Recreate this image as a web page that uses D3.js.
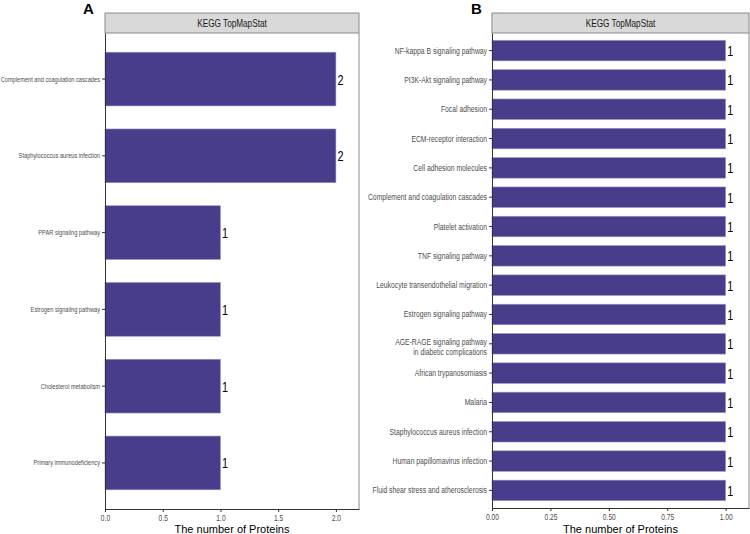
<!DOCTYPE html>
<html>
<head>
<meta charset="utf-8">
<script src="https://cdn.jsdelivr.net/npm/d3@7"></script>
<style>
  body { margin: 0; background: #fff; }
  svg { display: block; }
  text { font-family: "Liberation Sans", Arial, sans-serif; }
</style>
</head>
<body>
<div id="chart"></div>
<script>
// panel A data
const pathwaysA = [
  "Complement and coagulation cascades",
  "Staphylococcus aureus infection",
  "PPAR signaling pathway",
  "Estrogen signaling pathway",
  "Cholesterol metabolism",
  "Primary immunodeficiency"
];
const countsA = [2, 2, 1, 1, 1, 1];
const ticksA = [0, 0.5, 1, 1.5, 2];

// panel B data
const pathwaysB = [
  "NF-kappa B signaling pathway",
  "PI3K-Akt signaling pathway",
  "Focal adhesion",
  "ECM-receptor interaction",
  "Cell adhesion molecules",
  "Complement and coagulation cascades",
  "Platelet activation",
  "TNF signaling pathway",
  "Leukocyte transendothelial migration",
  "Estrogen signaling pathway",
  "AGE-RAGE signaling pathway\nin diabetic complications",
  "African trypanosomiasis",
  "Malaria",
  "Staphylococcus aureus infection",
  "Human papillomavirus infection",
  "Fluid shear stress and atherosclerosis"
];
const countsB = [1, 1, 1, 1, 1, 1, 1, 1, 1, 1, 1, 1, 1, 1, 1, 1];
const ticksB = [0, 0.25, 0.5, 0.75, 1];

const W = 750, H = 534;
const barColor = "#483D8B";

const svg = d3.select("#chart").append("svg")
  .attr("width", W).attr("height", H);

// fake a narrow (Helvetica Narrow like) face by squeezing glyphs
function squeeze(sel, ratio) {
  sel.each(function() {
    const len = this.getComputedTextLength();
    d3.select(this).attr("textLength", len * ratio).attr("lengthAdjust", "spacingAndGlyphs");
  });
}

function panel(opts) {
  const {names, values, ticks, fmt, x0, x1, y0, y1, letter, letterX, labelSize} = opts;
  const g = svg.append("g");
  const data = names.map((n, i) => ({name: n, value: values[i]}));

  const xMax = d3.max(values) * 1.1;
  const x = d3.scaleLinear().domain([0, xMax]).range([x0, x1]);
  const y = d3.scaleBand().domain(names).range([y0, y1])
    .paddingInner(0.3).paddingOuter(0.25);

  // strip
  g.append("rect")
    .attr("x", x0).attr("y", 13).attr("width", x1 - x0).attr("height", y0 - 13)
    .attr("fill", "#d9d9d9").attr("stroke", "#8a8a8a").attr("stroke-width", 1);
  g.append("text")
    .attr("x", (x0 + x1) / 2).attr("y", (13 + y0) / 2 + 3.8)
    .attr("text-anchor", "middle").attr("font-size", 10.5).attr("fill", "#1a1a1a")
    .text("KEGG TopMapStat")
    .call(squeeze, 0.78);

  // panel border (right side)
  g.append("line")
    .attr("x1", x1).attr("x2", x1).attr("y1", y0).attr("y2", y1)
    .attr("stroke", "#8a8a8a").attr("stroke-width", 1);

  // bars
  g.selectAll(".bar").data(data).join("rect")
    .attr("class", "bar")
    .attr("x", x(0))
    .attr("y", d => y(d.name))
    .attr("width", d => x(d.value) - x(0))
    .attr("height", y.bandwidth())
    .attr("fill", barColor)
    .attr("stroke", "#9a94c8").attr("stroke-width", 0.6);

  // value labels
  g.selectAll(".val").data(data).join("text")
    .attr("class", "val")
    .attr("x", d => x(d.value) + 1.5)
    .attr("y", d => y(d.name) + y.bandwidth() / 2 + 5.5)
    .attr("font-size", 15.5).attr("fill", "#000")
    .text(d => d.value)
    .call(squeeze, 0.7);

  // axes
  const axisY = g.append("g")
    .attr("transform", `translate(${x0},0)`)
    .call(d3.axisLeft(y).tickSize(3).tickSizeOuter(0).tickFormat(""));
  axisY.select(".domain").attr("stroke", "#333");
  axisY.selectAll(".tick line").attr("stroke", "#333");
  axisY.selectAll(".tick").each(function(d) {
    const lines = d.split("\n");
    const t = d3.select(this).append("text")
      .attr("text-anchor", "end")
      .attr("font-size", labelSize).attr("fill", "#4d4d4d");
    lines.forEach((ln, i) => {
      t.append("tspan").attr("x", -5)
        .attr("y", (i * 1.12 + 0.35) * labelSize + (lines.length > 1 ? -1.5 : 0))
        .text(ln);
    });
    t.selectAll("tspan").call(squeeze, 0.8);
  });

  const axisX = g.append("g")
    .attr("transform", `translate(0,${y1})`)
    .call(d3.axisBottom(x).tickValues(ticks).tickSize(3).tickSizeOuter(0).tickFormat(fmt));
  axisX.select(".domain").attr("stroke", "#333");
  axisX.selectAll(".tick line").attr("stroke", "#333");
  axisX.selectAll(".tick text")
    .attr("font-size", 9.5).attr("fill", "#4d4d4d")
    .attr("font-family", null)
    .attr("y", 5).attr("dy", "0.71em")
    .call(squeeze, 0.7);

  g.append("text")
    .attr("x", (x0 + x1) / 2).attr("y", 532.5)
    .attr("text-anchor", "middle")
    .attr("font-size", 11).attr("fill", "#000")
    .text("The number of Proteins");

  g.append("text")
    .attr("x", letterX).attr("y", 14)
    .attr("font-weight", "bold").attr("font-size", 15)
    .text(letter);
}

panel({
  names: pathwaysA, values: countsA, ticks: ticksA, fmt: d3.format(".1f"),
  x0: 105, x1: 359, y0: 33, y1: 509, letter: "A", letterX: 83, labelSize: 7.1
});

panel({
  names: pathwaysB, values: countsB, ticks: ticksB, fmt: d3.format(".2f"),
  x0: 492, x1: 749, y0: 33, y1: 508, letter: "B", letterX: 471, labelSize: 8.5
});
</script>
</body>
</html>
